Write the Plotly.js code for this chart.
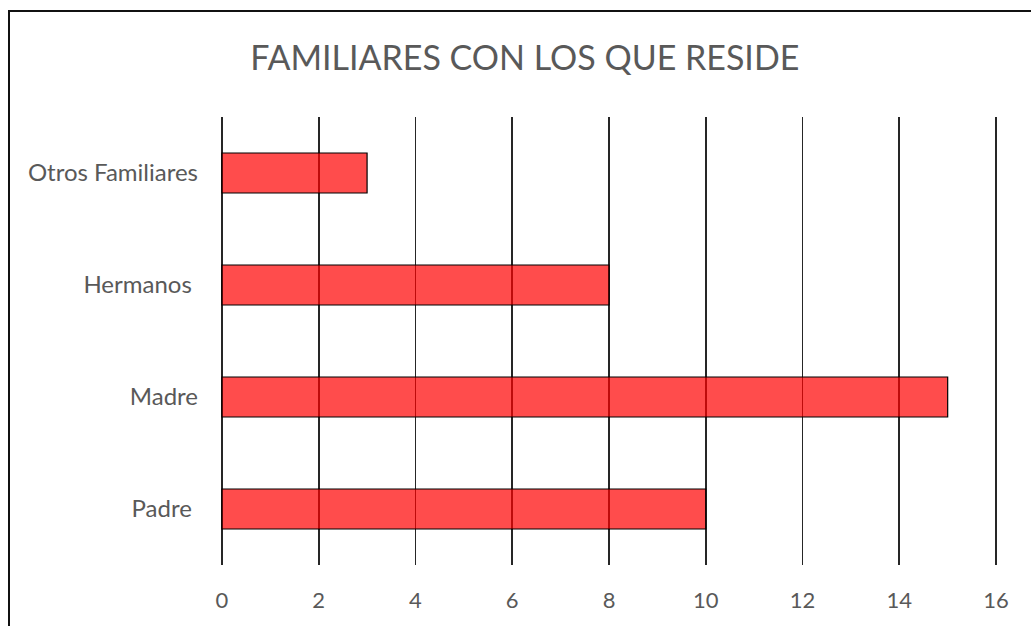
<!DOCTYPE html>
<html>
<head>
<meta charset="utf-8">
<script src="https://cdn.plot.ly/plotly-3.0.1.min.js"></script>
<style>
  html, body { margin: 0; padding: 0; background: #fff; }
  #chart { width: 1031px; height: 626px; }
  #frame { position: absolute; left: 8px; top: 10px; width: 1040px; height: 640px;
           border: 2px solid #111; box-sizing: border-box; pointer-events: none; }
</style>
</head>
<body>
<div id="chart"></div>
<div id="frame"></div>
<script>
const categories = ["Padre", "Madre", "Hermanos", "Otros Familiares"];
const tickLabels = ["Padre\u00a0", "Madre", "Hermanos\u00a0", "Otros Familiares"];
const values = [10, 15, 8, 3];
const xTicks = [0, 2, 4, 6, 8, 10, 12, 14, 16];
const chartTitle = "FAMILIARES CON LOS QUE RESIDE";

const fontFamily = "Lato, 'Open Sans', sans-serif";

const trace = {
  type: "bar",
  orientation: "h",
  y: categories,
  x: values,
  width: 0.357,
  marker: { color: "rgba(255,0,0,0.7)", line: { color: "#000", width: 1.2 } },
  hoverinfo: "x+y"
};

const layout = {
  width: 1031,
  height: 626,
  margin: { l: 220, r: 33, t: 117, b: 61 },
  paper_bgcolor: "#fff",
  plot_bgcolor: "#fff",
  showlegend: false,
  title: {
    text: chartTitle,
    font: { family: fontFamily, size: 34, color: "#595959" },
    x: 0.509, xref: "container", xanchor: "center",
    y: 0.907, yref: "container", yanchor: "middle"
  },
  xaxis: {
    range: [-0.04, 16.04],
    tickvals: xTicks,
    ticktext: xTicks.map(String),
    showgrid: true,
    gridcolor: "#262626",
    gridwidth: 1.8,
    zeroline: false,
    showline: false,
    ticks: "",
    ticklabelstandoff: 20,
    tickfont: { family: fontFamily, size: 22, color: "#595959" },
    fixedrange: true
  },
  yaxis: {
    type: "category",
    categoryarray: categories,
    tickvals: categories,
    ticktext: tickLabels,
    range: [-0.5, 3.5],
    showgrid: false,
    zeroline: false,
    showline: false,
    ticks: "",
    ticklabelstandoff: 21,
    tickfont: { family: fontFamily, size: 24, color: "#595959" },
    fixedrange: true
  }
};

Plotly.newPlot("chart", [trace], layout, { displayModeBar: false, staticPlot: true });
</script>
</body>
</html>
